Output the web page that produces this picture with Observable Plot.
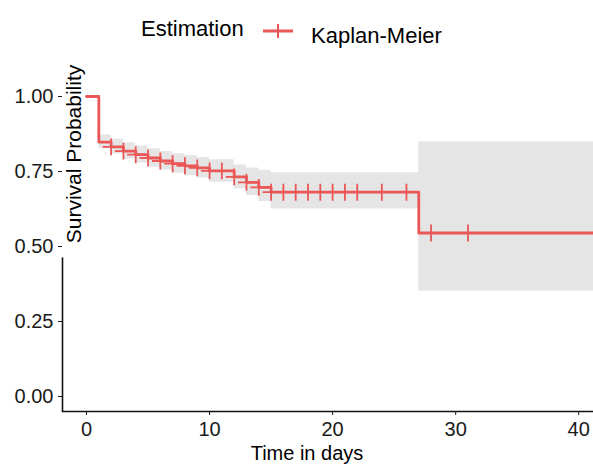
<!DOCTYPE html>
<html>
<head>
<meta charset="utf-8">
<script src="https://cdn.jsdelivr.net/npm/d3@7"></script>
<script src="https://cdn.jsdelivr.net/npm/@observablehq/plot@0.6"></script>
<style>
  html, body { margin: 0; padding: 0; background: white; }
  #wrap { width: 593px; height: 465px; overflow: hidden; font-family: "Liberation Sans", Arial, sans-serif; }
  #legend { display: block; }
</style>
</head>
<body>
<div id="wrap">
  <svg id="legend" width="593" height="50"></svg>
  <div id="chart"></div>
</div>
<script>
// Kaplan-Meier step function (time of step, survival after step, CI bounds)
const time  = [0, 1, 2, 3, 4, 5, 6, 7, 8, 9, 10, 12, 13, 14, 15, 27, 41.2];
const surv  = [1, 0.848, 0.832, 0.818, 0.806, 0.795, 0.785, 0.776, 0.769, 0.762, 0.752, 0.732, 0.714, 0.697, 0.681, 0.545, 0.545];
const upper = [1, 0.872, 0.858, 0.846, 0.835, 0.826, 0.817, 0.809, 0.803, 0.797, 0.789, 0.772, 0.762, 0.754, 0.746, 0.849, 0.849];
const lower = [1, 0.826, 0.808, 0.792, 0.778, 0.765, 0.754, 0.744, 0.736, 0.728, 0.714, 0.692, 0.670, 0.650, 0.625, 0.351, 0.351];
// censoring times
const censorTimes = [2, 3, 4, 5, 6, 7, 8, 9, 10, 11, 12, 13, 14, 15, 16, 17, 18, 19, 20, 21, 22, 24, 26, 28, 31];
const xTicks = [0, 10, 20, 30, 40];
const yTicks = [0, 0.25, 0.5, 0.75, 1];
const legendTitle = "Estimation";
const seriesName = "Kaplan-Meier";
const xTitle = "Time in days";
const yTitle = "Survival Probability";

const red = "#EB5757";
const font = "Liberation Sans, Arial, sans-serif";

const rows = time.map((t, i) => ({time: t, surv: surv[i], upper: upper[i], lower: lower[i]}));
const survAt = t => { let s = 1; for (const r of rows) { if (r.time <= t) s = r.surv; } return s; };
const censor = censorTimes.map(t => ({time: t, surv: survAt(t)}));

const xDomain = [-1.95, 41.2];
const yDomain = [-0.05, 1.05];

const plot = Plot.plot({
  width: 593,
  height: 415,
  marginLeft: 62,
  marginRight: 0,
  marginTop: 31,
  marginBottom: 54,
  style: {fontFamily: font, fontSize: "20px", color: "#1a1a1a", background: "white", overflow: "visible"},
  x: {domain: xDomain, label: null},
  y: {domain: yDomain, label: null},
  marks: [
    Plot.areaY(rows, {x: "time", y1: "lower", y2: "upper", curve: "step-after", fill: "#E5E5E5"}),
    Plot.line(rows, {x: "time", y: "surv", curve: "step-after", stroke: red, strokeWidth: 2.8}),
    Plot.dot(censor, {x: "time", y: "surv", symbol: "plus", r: 5.5, stroke: red, strokeWidth: 1.8}),
    Plot.frame({anchor: "bottom", stroke: "#111", strokeWidth: 1.6}),
    Plot.ruleX([xDomain[0]], {y1: yDomain[0], y2: 0.462, stroke: "#111", strokeWidth: 1.6}),
    Plot.axisX({ticks: xTicks, tickSize: 4, tickPadding: 6, label: null, fontSize: 20}),
    Plot.axisY({ticks: yTicks, tickSize: 4, tickPadding: 5, tickFormat: d3.format(".2f"), label: null, fontSize: 20})
  ]
});
document.getElementById("chart").appendChild(plot);

const svg = d3.select(plot);
svg.append("text")
  .attr("x", 307).attr("y", 410)
  .attr("text-anchor", "middle")
  .attr("font-family", font).attr("font-size", 20).attr("fill", "#000")
  .text(xTitle);
svg.append("text")
  .attr("transform", "translate(81,104) rotate(-90)")
  .attr("text-anchor", "middle")
  .attr("font-family", font).attr("font-size", 21).attr("fill", "#000")
  .text(yTitle);

// legend
const lg = d3.select("#legend");
lg.append("text").attr("x", 141).attr("y", 36)
  .attr("font-family", font).attr("font-size", 22).attr("fill", "#000").text(legendTitle);
lg.append("line").attr("x1", 263).attr("x2", 293).attr("y1", 31).attr("y2", 31)
  .attr("stroke", red).attr("stroke-width", 3);
lg.append("line").attr("x1", 278).attr("x2", 278).attr("y1", 24).attr("y2", 38)
  .attr("stroke", red).attr("stroke-width", 2);
lg.append("text").attr("x", 311).attr("y", 43)
  .attr("font-family", font).attr("font-size", 22).attr("fill", "#000").text(seriesName);
</script>
</body>
</html>
